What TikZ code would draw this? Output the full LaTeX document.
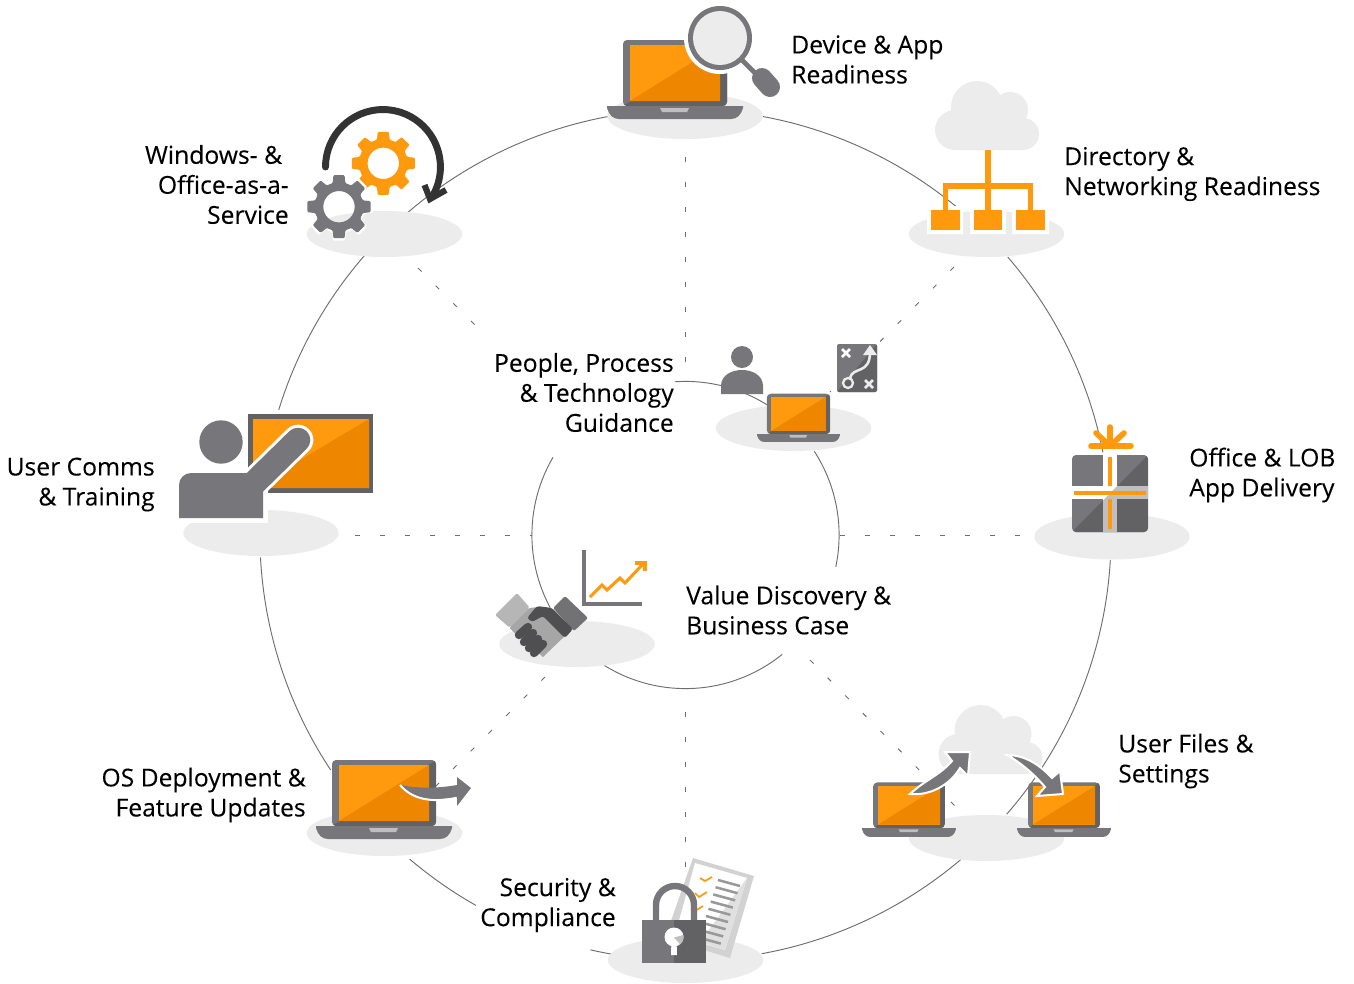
\documentclass[tikz,border=0pt]{standalone}
\usepackage{fontspec}
\setmainfont[FakeBold=0.12]{Open Sans}
\usetikzlibrary{calc,shapes.geometric}
\definecolor{disc}{HTML}{ECECEC}
\definecolor{grayA}{HTML}{77777B}
\definecolor{grayB}{HTML}{626265}
\definecolor{orangeA}{HTML}{FF9A0E}
\definecolor{orangeB}{HTML}{EF8600}
\definecolor{ringc}{HTML}{6E6E6E}
\definecolor{darkarc}{HTML}{333333}
\definecolor{hand}{HTML}{4F4F52}
\newcommand{\ringarc}[3]{\draw[ringline] ($(o)+(#2:#1pt)$) arc[start angle=#2,end angle=#3,radius=#1pt];}
\tikzset{
  ringline/.style={draw=ringc,line width=.7pt},
  spoke/.style={draw=ringc,line width=.7pt,dash pattern=on 3.75pt off 15pt},
  pedestal/.style={ellipse,fill=disc,minimum width=116.5pt,minimum height=34.5pt,inner sep=0pt},
  label/.style={inner sep=0pt,font=\fontsize{18.5pt}{22.5pt}\selectfont,text=black},
  labelL/.style={label,align=left,anchor=west},
  labelR/.style={label,align=right,anchor=east},
  laptop/.pic={
    \fill[grayA,rounded corners=3pt] (-52,0) rectangle (52,-66);
    \begin{scope}
      \clip[rounded corners=3pt] (-52,0) rectangle (52,-66);
      \fill[grayB] (-52,0) -- (52,-66) -- (52,0) -- cycle;
    \end{scope}
    \fill[orangeA] (-45,-5) rectangle (45,-61);
    \fill[orangeB] (-45,-5) -- (45,-61) -- (45,-5) -- cycle;
    \fill[grayA] (-68,0) -- (68,0) -- (68,2) .. controls (66,9) and (62,13) .. (56,13) -- (-56,13) .. controls (-62,13) and (-66,9) .. (-68,2) -- cycle;
    \fill[lightgray] (-15,2) -- (14,2) -- (12,6) -- (-13,6) -- cycle;
  },
  cloud/.pic={
    \fill[disc] (-9,-43) circle (26) (24,-40) circle (18) (-31,-20) circle (20) (37,-16) circle (16);
    \fill[disc] (-31,0) -- (-31,-30) -- (-9,-43) -- (24,-40) -- (37,-30) -- (37,0) -- cycle;
  },
  gear/.pic={
    \fill[pic actions,even odd rule,rounded corners=.8pt] (-15:24.5)
      \foreach \a in {0,45,...,315} { -- (\a-15:24.5) -- (\a-10:32) -- (\a+10:32) -- (\a+15:24.5) } -- cycle
      (0,0) circle (15.7);
  }
}
\begin{document}
\begin{tikzpicture}[x=.75pt,y=-.75pt]
\useasboundingbox (0,0) rectangle (1354,983);
\fill[white] (0,0) rectangle (1354,983);
\coordinate (o) at (685.5,535);
% rings
\ringarc{319.2}{79.5}{50.4}
\ringarc{319.2}{40.8}{11.2}
\ringarc{319.2}{-3.4}{-41}
\ringarc{319.2}{-49.7}{-79.7}
\ringarc{319.2}{-102.9}{-99.9}
\ringarc{319.2}{-119.5}{-130.4}
\ringarc{319.2}{-146.5}{-177}
\ringarc{319.2}{162.9}{139}
\ringarc{319.2}{130.7}{100.5}
\ringarc{115.2}{94}{58}
\ringarc{115.2}{33}{-12}
\ringarc{115.2}{-51}{-122}
\ringarc{115.2}{149.6}{208.3}
% spoke ends
\coordinate (sUa) at (685.5,157); \coordinate (sUb) at (685.5,365);
\coordinate (sDa) at (685.5,712); \coordinate (sDb) at (685.5,870);
\coordinate (sLa) at (355,535);   \coordinate (sLb) at (532,535);
\coordinate (sRa) at (840,535);   \coordinate (sRb) at (1020,535);
\coordinate (sURa) at (954,267);  \coordinate (sURb) at (830,392);
\coordinate (sULa) at (418,268);  \coordinate (sULb) at (478,328);
\coordinate (sDLa) at (545,677);  \coordinate (sDLb) at (435,787);
\coordinate (sDRa) at (810,660);  \coordinate (sDRb) at (955,806);
\draw[spoke] (sUa) -- (sUb);
\draw[spoke] (sDa) -- (sDb);
\draw[spoke] (sLa) -- (sLb);
\draw[spoke] (sRa) -- (sRb);
\draw[spoke] (sURa) -- (sURb);
\draw[spoke] (sULa) -- (sULb);
\draw[spoke] (sDLa) -- (sDLb);
\draw[spoke] (sDRa) -- (sDRb);
% pedestals
\node[pedestal] (pTop) at (685,116) {};
\node[pedestal] (pWin) at (384.5,234) {};
\node[pedestal] (pDir) at (986.5,234) {};
\node[pedestal] (pOff) at (1112,536.5) {};
\node[pedestal] (pCom) at (261,533) {};
\node[pedestal] (pPpl) at (793.5,428) {};
\node[pedestal] (pVal) at (577,644) {};
\node[pedestal] (pFil) at (986.5,838) {};
\node[pedestal] (pSec) at (685.5,960) {};
\node[pedestal] (pOS) at (384.5,833) {};
% Device & App: laptop with magnifier
\pic at (675,106) {laptop};
\fill[white] (720,38) circle (36);
\draw[grayA,line width=3.6pt] (742,60) -- (758,76);
\draw[grayA,line width=15pt,line cap=round] (762,78) -- (770,87);
\fill[grayA] (720,38) circle (32);
\fill[disc] (720,38) circle (27);
% Windows & Office: gears
\pic[orangeA] at (383.3,163.3) {gear};
\pic[white,scale=1.08] at (339,206.7) {gear};
\pic[grayA] at (339,206.7) {gear};
\draw[darkarc,line width=5.2pt,line cap=round] (325.5,167) arc[start angle=180,end angle=-28,radius=43.1pt];
\draw[darkarc,line width=4.6pt,line join=miter] (424.5,185) -- (430,199) -- (446,190);
% Directory: cloud and network
\pic at (986,150) {cloud};
\fill[white] (927,206) rectangle (963,234) (970,206) rectangle (1006,234) (1012,206) rectangle (1049,234);
\fill[orangeA] (985,150) rectangle (991,210);
\fill[orangeA] (943,183) rectangle (1033,189);
\fill[orangeA] (943,183) rectangle (948,210);
\fill[orangeA] (1028,183) rectangle (1033,210);
\fill[orangeA] (931,210) rectangle (960,230);
\fill[orangeA] (974,210) rectangle (1002,230);
\fill[orangeA] (1016,210) rectangle (1045,230);
% Office: gift
\fill[grayA,rounded corners=3pt] (1072,455) rectangle (1148,532);
\begin{scope}
  \clip[rounded corners=3pt] (1072,455) rectangle (1148,532);
  \fill[grayB] (1072,532) -- (1148,455) -- (1148,532) -- cycle;
  \fill[white] (1103,455) rectangle (1117,532);
  \fill[white] (1072,486) rectangle (1148,499);
  \clip (1072,532) -- (1148,455) -- (1148,532) -- cycle;
  \fill[lightgray] (1103,455) rectangle (1117,532);
  \fill[lightgray] (1072,486) rectangle (1148,499);
\end{scope}
\fill[orangeA] (1108,457) rectangle (1112,486);
\fill[orangeA] (1108,499) rectangle (1112,529);
\fill[orangeA] (1074,491) rectangle (1146,495);
\draw[orangeA,line width=4.2pt,line cap=round] (1110,446) -- (1110,427);
\draw[orangeA,line width=4.2pt,line cap=round] (1110,446) -- (1096,433);
\draw[orangeA,line width=4.2pt,line cap=round] (1110,446) -- (1124,433);
\draw[orangeA,line width=4.2pt,line cap=round] (1091,446) -- (1131,446);
% User comms: presenter
\fill[grayB] (248,414) rectangle (373,493);
\fill[orangeA] (253,419) rectangle (369,488);
\fill[orangeB] (253,488) -- (369,419) -- (369,488) -- cycle;
\fill[white] (179,473) rectangle (268,523);
\draw[white,line width=23pt,line cap=round] (246,491) -- (298,440);
\fill[grayA] (179,518) -- (179,485) arc[start angle=180,end angle=90,radius=9pt] -- (263,473) -- (263,518) -- cycle;
\draw[grayA,line width=18.5pt,line cap=round] (246,491) -- (298,440);
\fill[grayA] (221,442) circle (21.7);
% People: person, map, laptop
\fill[grayA] (742,357) circle (11);
\fill[grayA] (721,394) -- (721,386) .. controls (721,375) and (732,370) .. (742,370) .. controls (752,370) and (763,375) .. (763,386) -- (763,394) -- cycle;
\pic[scale=.61] at (798.5,434) {laptop};
\fill[grayA,rounded corners=1.5pt] (837,344) rectangle (877,392);
\begin{scope}
  \clip[rounded corners=1.5pt] (837,344) rectangle (877,392);
  \fill[grayB] (837,392) -- (877,344) -- (877,392) -- cycle;
\end{scope}
\draw[white,line width=1.9pt] (842,349) -- (850,357) (850,349) -- (842,357);
\draw[disc,line width=1.9pt] (865,380) -- (873,388) (873,380) -- (865,388);
\draw[disc,line width=1.7pt] (848,383) circle (5);
\draw[disc,line width=1.9pt] (850,378) .. controls (853,366) and (870,375) .. (870,352);
\fill[disc] (870,345) -- (877,355) -- (863,355) -- cycle;
% Value discovery: chart and handshake
\draw[grayA,line width=2.3pt] (584,550) -- (584,604) -- (642,604);
\draw[orangeA,line width=2.3pt,line join=miter] (590,597) -- (602,585) -- (607,590) -- (620,578) -- (625,583) -- (643,564);
\draw[orangeA,line width=2.3pt] (635,563) -- (645,563) -- (645,571);
\fill[lightgray!85!gray,rounded corners=1.5pt] (517,593) -- (530,608) -- (510,628) -- (495,615) -- cycle;
\fill[gray!90!white] (530,608) -- (510,628) -- (520,638) -- (542,616) -- cycle;
\fill[grayB!90!white,rounded corners=1.5pt] (565,596) -- (588,618) -- (574,631) -- (553,608) -- cycle;
\fill[gray!70!white] (530,608) -- (538,607) -- (568,633) -- (543,657) -- (510,628) -- cycle;
\fill[hand,rounded corners=2pt] (527,618) -- (537,606) -- (552,608) -- (573,629) -- (565,638) -- (543,616) -- (532,622) -- cycle;
\draw[hand,line width=6.3pt,line cap=round] (519,635) -- (528,627);
\draw[hand,line width=6.3pt,line cap=round] (524,642) -- (533,633);
\draw[hand,line width=6.3pt,line cap=round] (529,648) -- (538,639);
\draw[hand,line width=6.3pt,line cap=round] (534,653) -- (543,644);
% User files: cloud, laptops, arrows
\pic at (989.5,774) {cloud};
\pic[scale=.69] at (909,828) {laptop};
\pic[scale=.69] at (1064,828) {laptop};
\fill[grayA,draw=white,line width=1.5pt,line join=miter] (910,794) .. controls (925,780) and (940,775) .. (952,761) -- (945,752) -- (970,752) -- (968,776) -- (960,768) .. controls (950,785) and (930,796) .. (910,794) -- cycle;
\fill[grayA,draw=white,line width=1.5pt,line join=miter] (1007,755) .. controls (1025,755) and (1040,765) .. (1052,778) -- (1060,771) -- (1063,794) -- (1037,796) -- (1045,787) .. controls (1035,775) and (1020,762) .. (1007,755) -- cycle;
% Security: paper and lock
\fill[lightgray!70!white] (693,858) -- (754,876) -- (730,958) -- (665,938) -- cycle;
\fill[white] (695,863) -- (747,878) -- (725,950) -- (675,935) -- cycle;
\fill[black!12] (747,878) -- (725,950) -- (700,942) -- cycle;
\foreach \i in {0,...,8}
  \draw[gray!80,line width=1.9pt] ({718-2.4*\i},{880+7.2*\i}) -- ({740-2.4*\i},{886+7.2*\i});
\draw[orangeA,line width=1.3pt] (700,878) -- (705,881) -- (712,877);
\draw[orangeA,line width=1.3pt] (695,893) -- (699,897) -- (707,892);
\draw[orangeA,line width=1.3pt] (691,908) -- (695,911) -- (703,906);
\draw[grayA,line width=4.8pt] (656,922) -- (656,905) arc[start angle=180,end angle=0,radius=14.25pt] -- (694,922);
\fill[grayA] (642,920) rectangle (674,963);
\fill[grayB] (674,920) rectangle (706,963);
\fill[white] (674,937) circle (9.5);
\fill[white] (671.5,940) -- (676.5,940) -- (677,955) -- (671,955) -- cycle;
\fill[lightgray] (674,937.5) -- (683.3,935) arc[start angle=12,end angle=-50,radius=7.1pt] -- cycle;
% OS deployment: laptop and arrow
\pic at (384,826) {laptop};
\fill[grayA] (400,785) .. controls (420,789) and (440,788) .. (457,785) -- (457,777) -- (471,788) -- (457,806) -- (457,797) .. controls (430,802) and (412,798) .. (400,785) -- cycle;
\draw[white,line width=1.5pt] (400,785) .. controls (412,799) and (430,803) .. (456,798);
% labels
\node[labelL] (tDev) at (791,59.5) {Device \& App\\Readiness};
\node[labelL] (tDir) at (1064,174) {Directory \&\\Networking Readiness};
\node[labelL] (tOff) at (1189,475) {Office \& LOB\\App Delivery};
\node[labelL] (tFil) at (1118,761) {User Files \&\\Settings};
\node[labelL] (tVal) at (686,610) {Value Discovery \&\\Business Case};
\node[labelR] (tWin) at (289,184.5) {Windows- \&\hspace*{5pt}\\Office-as-a-\\Service};
\node[labelR] (tCom) at (155,484.5) {User Comms\\\& Training};
\node[labelR] (tPpl) at (674,392.5) {People, Process\\\& Technology\\Guidance};
\node[labelR] (tOS) at (306,795) {OS Deployment \&\\Feature Updates};
\node[labelR] (tSec) at (616,905) {Security \&\\Compliance};
\end{tikzpicture}
\end{document}
